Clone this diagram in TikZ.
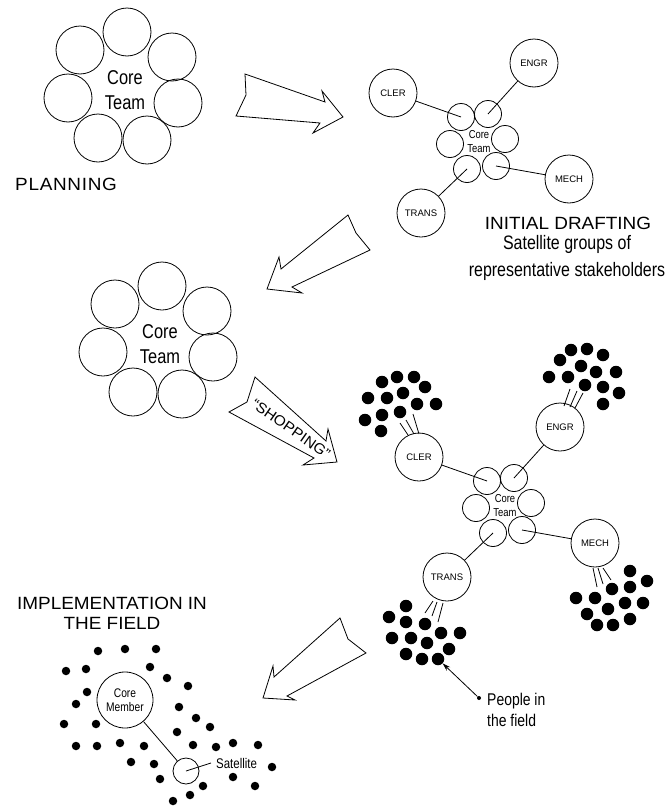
\documentclass[tikz,border=0pt]{standalone}
\usepackage{fontspec}
\setmainfont{Liberation Sans}
\newfontfamily\narrowfont[FakeStretch=0.82]{Liberation Sans}
\newfontfamily\widefont[FakeStretch=1.07]{Liberation Sans}
\usetikzlibrary{arrows.meta}

% ring of core team members (planning position)
\newcommand{\coreteam}{%
  \node[member] (m1) at (127,32) {};
  \node[member] (m2) at (172,57) {};
  \node[member] (m3) at (178,103) {};
  \node[member] (m4) at (147,140) {};
  \node[member] (m5) at (98,138) {};
  \node[member] (m6) at (68,98) {};
  \node[member] (m7) at (80,50) {};
  \node[teamlabel] (core) at (125,90) {Core\\Team};
}

% core team with its satellite groups (drafting position)
\newcommand{\satellites}{%
  \node[seat] (s1) at (461,117) {};
  \node[seat] (s2) at (488,114) {};
  \node[seat] (s3) at (505,139) {};
  \node[seat] (s4) at (496,166) {};
  \node[seat] (s5) at (467,169) {};
  \node[seat] (s6) at (450,144) {};
  \node[smallteam] (core) at (479,142) {Core\\Team};
  \node[group] (cler) at (393,93) {CLER};
  \node[group] (engr) at (534,63) {ENGR};
  \node[group] (mech) at (569,179) {MECH};
  \node[group] (trans) at (421,213) {TRANS};
  \draw[link] (s1.center) -- (cler);
  \draw[link] (s2.center) -- (engr);
  \draw[link] (s4.center) -- (mech);
  \draw[link] (s5.center) -- (trans);
}

\begin{document}
\begin{tikzpicture}[x=1pt, y=-1pt,
  member/.style={circle, draw, line width=0.8pt, minimum size=48pt, inner sep=0pt},
  seat/.style={circle, draw, line width=0.8pt, minimum size=27pt, inner sep=0pt},
  group/.style={circle, draw, line width=0.8pt, minimum size=48pt, inner sep=0pt,
                font=\fontsize{9.5}{11}\selectfont},
  link/.style={line width=0.8pt},
  person/.style={circle, fill, minimum size=12.5pt, inner sep=0pt},
  villager/.style={circle, fill, minimum size=8.5pt, inner sep=0pt},
  bigarrow/.style={draw, line width=0.8pt, line join=miter},
  teamlabel/.style={inner sep=0pt, align=center, font=\narrowfont\fontsize{20}{25}\selectfont},
  smallteam/.style={inner sep=0pt, align=center, font=\narrowfont\fontsize{11.5}{14}\selectfont},
  stage/.style={inner sep=0pt, align=center, font=\widefont\fontsize{17.7}{20}\selectfont},
  caption/.style={inner sep=0pt, align=center, font=\narrowfont\fontsize{19.5}{27}\selectfont}]
  \useasboundingbox (0,0) rectangle (667,806);

  % Planning
  \begin{scope}[name prefix=plan-]
    \coreteam
  \end{scope}
  \node[stage, anchor=base west, font=\widefont\fontsize{17.7}{20}\selectfont\addfontfeature{LetterSpace=4}]
    (planning) at (15,190) {PLANNING};

  % arrow to drafting
  \draw[bigarrow] (245,74) -- (325,102) -- (322,91) -- (343,117) -- (313,133)
    -- (320,123) -- (236,116) -- (246,95) -- cycle;

  % Initial drafting
  \begin{scope}[name prefix=draft-]
    \satellites
  \end{scope}
  \node[stage, anchor=base] (drafting) at (568,229) {INITIAL DRAFTING};
  \node[caption] (groups) at (567,258) {Satellite groups of\\representative stakeholders};

  % arrow back to the core team
  \draw[bigarrow] (348,215) -- (356,233) -- (370,250) -- (292,287) -- (302,293)
    -- (267,289) -- (279,257) -- (281,269) -- cycle;

  % Shopping
  \begin{scope}[shift={(35,254)}, name prefix=shop-]
    \coreteam
  \end{scope}
  \draw[bigarrow] (255,377) -- (326,441) -- (328,429) -- (337,462) -- (303,465)
    -- (314,458) -- (229,412) -- (247,402) -- cycle;
  \node[inner sep=0pt, rotate=-35, font=\widefont\fontsize{14.5}{16}\selectfont]
    (shopping) at (291,429) {“SHOPPING”};

  % satellite groups with people in the field
  \begin{scope}[shift={(26,364)}, name prefix=field-]
    \satellites
  \end{scope}
  \foreach \x/\y [count=\i] in {382/382, 397/377, 414/377, 425/387, 368/398, 387/398, 403/393,
      417/404, 436/404, 365/420, 382/415, 400/412, 381/431}
    \node[person] (cl\i) at (\x,\y) {};
  \foreach \x/\y [count=\i] in {571/350, 587/349, 603/355, 560/360, 581/366, 596/372, 616/372,
      549/377, 568/377, 585/385, 603/387, 619/393, 603/404}
    \node[person] (en\i) at (\x,\y) {};
  \foreach \x/\y [count=\i] in {630/571, 647/581, 612/589, 630/587, 576/598, 595/598, 625/603,
      643/603, 608/609, 587/614, 630/619, 613/625, 597/625}
    \node[person] (me\i) at (\x,\y) {};
  \foreach \x/\y [count=\i] in {406/606, 389/617, 406/622, 425/624, 392/638, 411/638, 427/643,
      441/633, 460/633, 449/649, 406/654, 422/659, 438/659}
    \node[person] (tr\i) at (\x,\y) {};
  % ties to the groups
  \draw[link] (400,423) -- (408,435) (406,420) -- (414,434) (413,414) -- (419,434);
  \draw[link] (564,406) -- (570,389) (570,407) -- (577,391) (575,408) -- (583,393);
  \draw[link] (593,568) -- (597,587) (598,568) -- (603,584) (603,568) -- (611,580);
  \draw[link] (433,601) -- (425,613) (437,602) -- (432,616) (443,603) -- (438,622);

  \node[circle, fill, minimum size=4pt, inner sep=0pt] (pin) at (479,698) {};
  \draw[link, -{Stealth[length=8pt, width=5pt]}] (pin) -- (tr13);
  \node[inner sep=0pt, anchor=west, align=left, font=\narrowfont\fontsize{17}{21}\selectfont]
    (people) at (487,710) {People in\\the field};

  % arrow to implementation
  \draw[bigarrow] (340,618) -- (348,639) -- (366,653) -- (287,696) -- (295,700)
    -- (263,698) -- (273,666) -- (274,677) -- cycle;

  % Implementation in the field
  \node[stage] (implementation) at (112,613) {IMPLEMENTATION IN\\THE FIELD};
  \foreach \x/\y in {98/651, 125/649, 156/649, 66/671, 86/669, 150/667, 167/678, 188/686,
      87/692, 76/704, 179/707, 64/724, 96/724, 196/718, 210/727, 177/732, 76/746, 97/746,
      120/743, 144/746, 193/745, 216/747, 233/743, 258/745, 131/762, 154/764, 272/767,
      160/779, 233/777, 203/786, 255/786, 190/795, 173/801}
    \node[villager] at (\x,\y) {};
  \node[circle, draw, fill=white, line width=0.8pt, minimum size=56pt, inner sep=0pt, align=center,
        font=\narrowfont\fontsize{12.5}{14.5}\selectfont] (member) at (125,700) {Core\\Member};
  \node[circle, draw, fill=white, line width=0.8pt, minimum size=26pt, inner sep=0pt] (satellite) at (186,771) {};
  \draw[link] (member) -- (satellite);
  \node[inner sep=0pt, anchor=base west, font=\narrowfont\fontsize{14}{16}\selectfont]
    (satname) at (216,768) {Satellite};
  \draw[link] (satellite.center) -- ([xshift=-5pt]satname.west);
\end{tikzpicture}
\end{document}
